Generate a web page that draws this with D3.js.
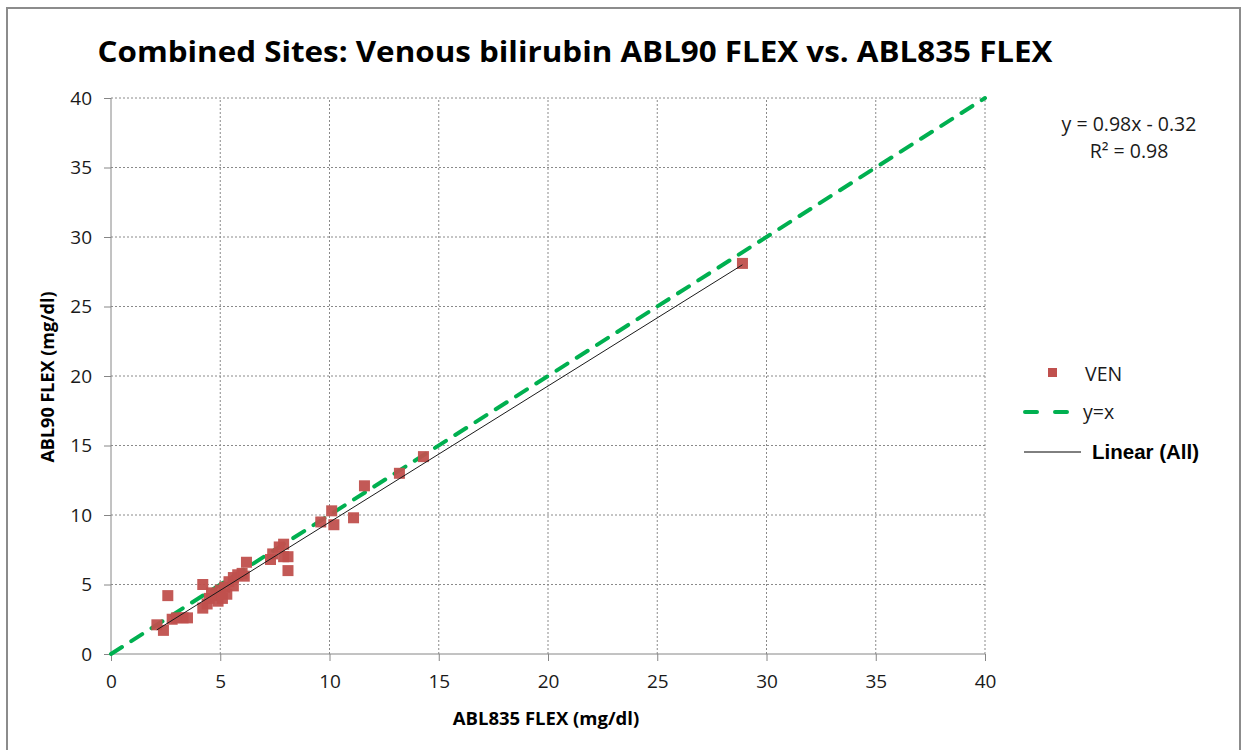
<!DOCTYPE html>
<html>
<head>
<meta charset="utf-8">
<script src="https://cdn.jsdelivr.net/npm/d3@7"></script>
<style>
  body { margin: 0; background: #fff; }
  text { font-family: "Open Sans", "Noto Sans", sans-serif; }
</style>
</head>
<body>
<div id="chart"></div>
<script>
"use strict"

// venous bilirubin, ABL835 (x) vs ABL90 (y), mg/dl
const venX = [2.1, 2.4, 2.6, 2.8, 3.0, 3.3, 3.5, 4.2, 4.2, 4.4, 4.5, 4.6, 4.8, 4.9, 5.0, 5.1, 5.2, 5.3, 5.4, 5.6,
              5.6, 5.8, 6.0, 6.1, 6.2, 7.3, 7.4, 7.7, 7.9, 7.9, 8.1, 8.1, 9.6, 10.1, 10.2, 11.1, 11.6, 13.2, 14.3, 28.9];
const venY = [2.1, 1.7, 4.2, 2.5, 2.6, 2.6, 2.6, 5.0, 3.3, 3.6, 4.0, 4.4, 4.2, 3.8, 4.6, 4.0, 4.8, 4.3, 5.2, 5.5,
              4.9, 5.7, 5.8, 5.6, 6.6, 6.8, 7.2, 7.7, 7.9, 7.0, 7.0, 6.0, 9.5, 10.3, 9.3, 9.8, 12.1, 13.0, 14.2, 28.1];
const xTicks = [0, 5, 10, 15, 20, 25, 30, 35, 40];
const yTicks = [0, 5, 10, 15, 20, 25, 30, 35, 40];
const identityLine = [0, 40];
const fitSlope = 0.98;
const fitIntercept = -0.32;
const fitR2 = 0.98;

const width = 1241, height = 750;
const margin = {left: 111, right: 256, top: 98, bottom: 96};

let svg = d3.select("#chart").append("svg")
    .attr("width", width)
    .attr("height", height);

// outer chart frame
svg.append("rect")
    .attr("x", 7).attr("y", 8)
    .attr("width", 1233).attr("height", 760)
    .attr("fill", "none")
    .attr("stroke", "#8c8c8c")
    .attr("stroke-width", 2);

let x = d3.scaleLinear().domain([0, 40]).range([margin.left, width - margin.right]);
let y = d3.scaleLinear().domain([0, 40]).range([height - margin.bottom, margin.top]);

/* grid */
let grid = svg.append("g");
grid.selectAll(".vgrid")
    .data(xTicks.filter(d => d > 0))
    .enter().append("line")
    .attr("x1", d => x(d)).attr("x2", d => x(d))
    .attr("y1", y(0)).attr("y2", y(40))
    .attr("stroke", "#8a8a8a")
    .attr("stroke-width", 1)
    .attr("stroke-dasharray", "2,2");
grid.selectAll(".hgrid")
    .data(yTicks.filter(d => d > 0))
    .enter().append("line")
    .attr("x1", x(0)).attr("x2", x(40))
    .attr("y1", d => y(d)).attr("y2", d => y(d))
    .attr("stroke", "#8a8a8a")
    .attr("stroke-width", 1)
    .attr("stroke-dasharray", "2,2");

/* axes */
let xAxis = svg.append("g")
    .attr("transform", `translate(0,${y(0)})`)
    .call(d3.axisBottom(x).tickValues(xTicks).tickSize(7).tickPadding(14));
let yAxis = svg.append("g")
    .attr("transform", `translate(${x(0)},0)`)
    .call(d3.axisLeft(y).tickValues(yTicks).tickSize(7).tickPadding(12));

[xAxis, yAxis].forEach(function (ax) {
    ax.selectAll("path, line").attr("stroke", "#868686");
    ax.selectAll("text")
        .attr("fill", "#1a1a1a")
        .style("font-size", "19px")
        .style("font-family", "\"Open Sans\", sans-serif");
});
yAxis.select(".domain").attr("d", `M0,${y(0)}V${y(40)}`);
xAxis.select(".domain").attr("d", `M${x(0)},0H${x(40)}`);

/* y = x reference */
svg.append("line")
    .attr("x1", x(identityLine[0])).attr("y1", y(identityLine[0]))
    .attr("x2", x(identityLine[1])).attr("y2", y(identityLine[1]))
    .attr("stroke", "#00b050")
    .attr("stroke-width", 4)
    .attr("stroke-linecap", "round")
    .attr("stroke-dasharray", "13,11");

/* data points */
let pts = venX.map((d, i) => ({x: d, y: venY[i]}));
svg.append("g").selectAll("rect")
    .data(pts)
    .enter().append("rect")
    .attr("x", d => x(d.x) - 5.5)
    .attr("y", d => y(d.y) - 5.5)
    .attr("width", 11)
    .attr("height", 11)
    .attr("fill", "#c0504d")
    .attr("fill-opacity", 0.95);

/* linear fit */
let fitExtent = d3.extent(venX);
svg.append("line")
    .attr("x1", x(fitExtent[0])).attr("y1", y(fitSlope * fitExtent[0] + fitIntercept))
    .attr("x2", x(fitExtent[1])).attr("y2", y(fitSlope * fitExtent[1] + fitIntercept))
    .attr("stroke", "#1a1a1a")
    .attr("stroke-width", 1);

/* title */
svg.append("text")
    .attr("x", 575).attr("y", 62)
    .attr("text-anchor", "middle")
    .style("font-size", "29px")
    .style("font-weight", "bold")
    .attr("textLength", 955)
    .attr("lengthAdjust", "spacingAndGlyphs")
    .text("Combined Sites: Venous bilirubin ABL90 FLEX vs. ABL835 FLEX");

/* axis titles */
svg.append("text")
    .attr("x", 546).attr("y", 725)
    .attr("text-anchor", "middle")
    .style("font-size", "18.5px")
    .style("font-weight", "bold")
    .text("ABL835 FLEX (mg/dl)");
svg.append("text")
    .attr("transform", "translate(54,377) rotate(-90)")
    .attr("text-anchor", "middle")
    .style("font-size", "18px")
    .style("font-weight", "bold")
    .text("ABL90 FLEX (mg/dl)");

/* regression equation */
svg.append("text")
    .attr("x", 1129).attr("y", 131)
    .attr("text-anchor", "middle")
    .style("font-size", "19.5px")
    .attr("fill", "#1a1a1a")
    .text(`y = ${fitSlope}x - ${Math.abs(fitIntercept)}`);
svg.append("text")
    .attr("x", 1129).attr("y", 158)
    .attr("text-anchor", "middle")
    .style("font-size", "19.5px")
    .attr("fill", "#1a1a1a")
    .text(`R² = ${fitR2}`);

/* legend */
let legend = svg.append("g");
legend.append("rect")
    .attr("x", 1048).attr("y", 368)
    .attr("width", 9).attr("height", 9)
    .attr("fill", "#c0504d");
legend.append("text")
    .attr("x", 1085).attr("y", 381)
    .style("font-size", "19.5px")
    .attr("fill", "#1a1a1a")
    .text("VEN");
legend.append("line")
    .attr("x1", 1025).attr("x2", 1068)
    .attr("y1", 412).attr("y2", 412)
    .attr("stroke", "#00b050")
    .attr("stroke-width", 4)
    .attr("stroke-linecap", "round")
    .attr("stroke-dasharray", "12,18");
legend.append("text")
    .attr("x", 1083).attr("y", 419)
    .style("font-size", "19.5px")
    .attr("fill", "#1a1a1a")
    .text("y=x");
legend.append("line")
    .attr("x1", 1024).attr("x2", 1081)
    .attr("y1", 452).attr("y2", 452)
    .attr("stroke", "#000")
    .attr("stroke-width", 1);
legend.append("text")
    .attr("x", 1092).attr("y", 459)
    .style("font-size", "20.5px")
    .style("font-weight", "bold")
    .style("font-family", "\"Liberation Sans\", Arial, sans-serif")
    .text("Linear (All)");
</script>
</body>
</html>
